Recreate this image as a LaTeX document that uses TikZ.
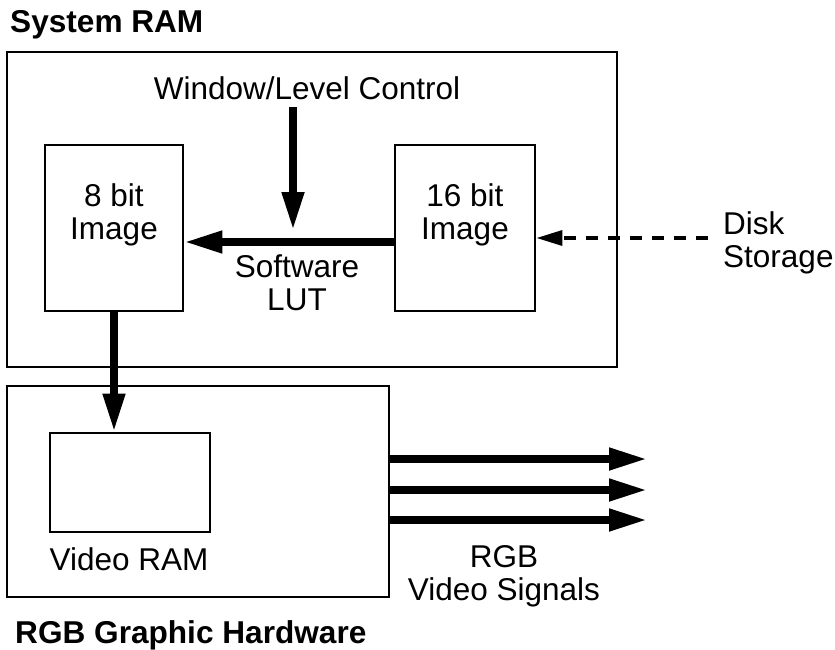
\documentclass[tikz,border=0pt]{standalone}
\usepackage{fontspec}
\setmainfont{Liberation Sans}
\usetikzlibrary{arrows.meta}
\begin{document}
\begin{tikzpicture}[x=1pt,y=-1pt,
 box/.style={draw,line width=2.8pt,inner sep=0pt},
 txt/.style={inner sep=0pt,font=\fontsize{31.5}{33}\selectfont,align=center},
 ttl/.style={inner sep=0pt,font=\fontsize{31.6}{34}\selectfont\bfseries},
 bigarrow/.style={line width=7.5pt,-{Triangle[length=38pt,width=21pt]}},
 dasharrow/.style={line width=3.5pt,dash pattern=on 12pt off 10pt,-{Triangle[length=26pt,width=15pt]}}
]
\useasboundingbox (0,0) rectangle (835,650);
% boxes
\node[box,minimum width=610pt,minimum height=315pt] (sysram) at (312,209.5) {};
\node[box,minimum width=138pt,minimum height=166pt] (img8) at (114,228) {};
\node[box,minimum width=140pt,minimum height=166pt] (img16) at (465,228) {};
\node[box,minimum width=382pt,minimum height=211pt] (rgbhw) at (198,491.5) {};
\node[box,minimum width=160pt,minimum height=99pt] (vram) at (130,482.5) {};
% texts
\node[ttl,anchor=base west] (tsys) at (10,33) {System RAM};
\node[txt,anchor=base] (twl) at (307,100) {Window/Level Control};
\node[txt,anchor=base] (t8) at (114,239) {8 bit\\Image};
\node[txt,anchor=base] (t16) at (465,239) {16 bit\\Image};
\node[txt,anchor=base] (tlut) at (297,310) {Software\\LUT};
\node[txt,anchor=base west,align=left] (tdisk) at (723,267) {Disk\\Storage};
\node[txt,anchor=base] (tvram) at (129,570) {Video RAM};
\node[txt,anchor=base] (trgb) at (504,600) {RGB\\Video Signals};
\node[ttl,anchor=base west] (thw) at (15,643) {RGB Graphic Hardware};
% connectors
\coordinate (wlstart) at (293,107);
\coordinate (wlend) at (293,230);
\coordinate (disk) at (708,238);
\coordinate (r1) at (647,459);
\coordinate (r2) at (647,490);
\coordinate (r3) at (647,520);
\draw[bigarrow] (wlstart) -- (wlend);
\draw[bigarrow] ([yshift=-14pt]img16.west) -- ([yshift=-14pt]img8.east);
\draw[bigarrow] (img8.south) -- (img8.south |- vram.north);
\draw[dasharrow] (disk) -- ([yshift=-10pt]img16.east);
\draw[bigarrow] (rgbhw.east |- r1) -- (r1);
\draw[bigarrow] (rgbhw.east |- r2) -- (r2);
\draw[bigarrow] (rgbhw.east |- r3) -- (r3);
\end{tikzpicture}
\end{document}
